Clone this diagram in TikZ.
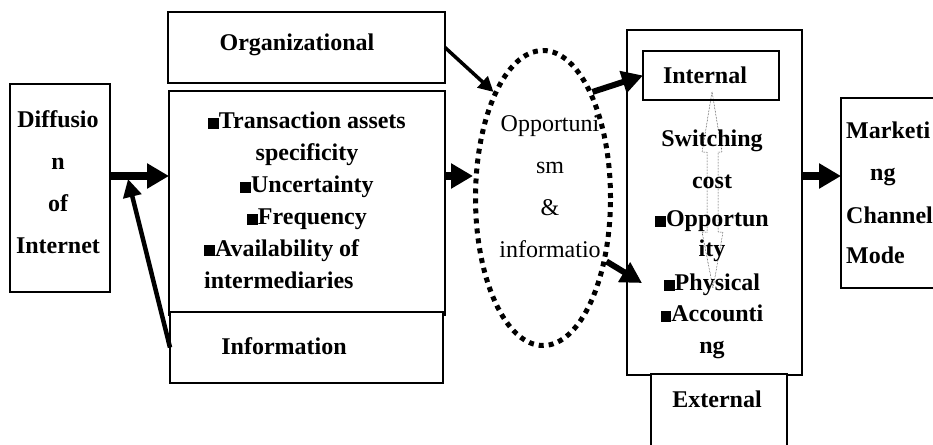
\documentclass[tikz,border=0pt]{standalone}
\usepackage{fontspec}
\setmainfont{Liberation Serif}
\usetikzlibrary{arrows.meta,shapes.geometric}
\newcommand{\bsq}{\rule{0.45em}{0.45em}}

\begin{document}
\begin{tikzpicture}[
    x=1pt, y=-1pt,
    box/.style={draw, line width=1.5pt, inner sep=0pt, outer sep=0pt, fill=white},
    txt/.style={inner sep=0pt, font=\fontsize{24pt}{32pt}\selectfont\bfseries, align=center},
    fat/.style={-{Triangle[length=22pt, width=24pt]}, line width=8pt},
    medarr/.style={-{Triangle[length=21pt, width=22pt]}, line width=6pt},
    slim/.style={-{Triangle[length=18pt, width=18pt]}, line width=4.5pt},
    orgarr/.style={-{Triangle[length=15pt, width=15pt]}, line width=3.5pt}
]
    \useasboundingbox (0,0) rectangle (933,444);

    \node[box, minimum width=100pt, minimum height=208pt] (diff) at (60,188) {};
    \node[box, minimum width=277pt, minimum height=71pt] (org) at (306.5,47.5) {};
    \node[box, minimum width=276pt, minimum height=224pt] (factors) at (307,203) {};
    \node[box, minimum width=273pt, minimum height=71pt] (info) at (306.5,347.5) {};
    \node[box, minimum width=175pt, minimum height=345pt] (cost) at (714.5,202.5) {};
    \node[box, line width=2pt, minimum width=136pt, minimum height=49pt] (int) at (711,75.5) {};
    \node[box, minimum width=136pt, minimum height=96pt] (ext) at (719,422) {};
    \node[box, minimum width=95pt, minimum height=190pt] (mkt) at (888.5,193) {};
    \node[ellipse, draw, line width=5pt, dash pattern=on 5pt off 5pt,
          minimum width=135pt, minimum height=295pt, inner sep=0pt] (opp) at (543,198) {};

    \node[txt, anchor=north] (difftxt) at (58,110) {Diffusio\\[10pt]n\\[10pt]of\\[10pt]Internet};
    \node[txt] (orgtxt) at (297,45) {Organizational};
    \node[txt, anchor=north] (factxt) at (307,112) {\bsq Transaction assets\\specificity\\\bsq Uncertainty\\\bsq Frequency};
    \node[txt, anchor=north west, align=left] (facmore) at (204,239) {\bsq Availability of\\intermediaries};
    \node[txt] (infotxt) at (284,346) {Information};
    \node[txt, anchor=north, font=\fontsize{24pt}{32pt}\selectfont] (opptxt) at (550,115) {Opportuni\\[10pt]sm\\[10pt]\&\\[10pt]informatio};
    \node[txt] (inttxt) at (705,75) {Internal};
    \node[txt, anchor=north] (costtxt) at (712,130) {Switching\\[10pt]cost\\[6pt]\bsq Opportun\\[-2pt]ity\\[2pt]\bsq Physical\\[-1pt]\bsq Accounti\\ng};
    \node[txt] (exttxt) at (717,399) {External};
    \node[txt, anchor=north west, align=left] (mkttxt) at (846,122) {Marketi\\[10pt]\hspace*{24pt}ng\\[11pt]Channel\\[8pt]Mode};

    % up-down block arrow, dotted outline
    \draw[densely dotted, line width=0.5pt] (712,92) -- (722,152) -- (718,152) -- (718,232)
        -- (723,232) -- (713,288) -- (702,232) -- (707,232) -- (707,152) -- (702,152) -- cycle;

    \coordinate (row) at (0,176);
    \coordinate (join) at (128,179);
    \coordinate (phys) at (642,283);

    \draw[fat] (diff.east |- row) -- (factors.west |- row);
    \draw[slim] (info.west) -- (join);
    \draw[fat] (factors.east |- row) -- (opp.west |- row);
    \draw[orgarr] (org.east) -- (opp.north west);
    \draw[medarr] (opp.north east) -- (int.west);
    \draw[medarr] (opp.-45) -- (phys);
    \draw[fat] (cost.east |- row) -- (mkt.west |- row);
\end{tikzpicture}
\end{document}
